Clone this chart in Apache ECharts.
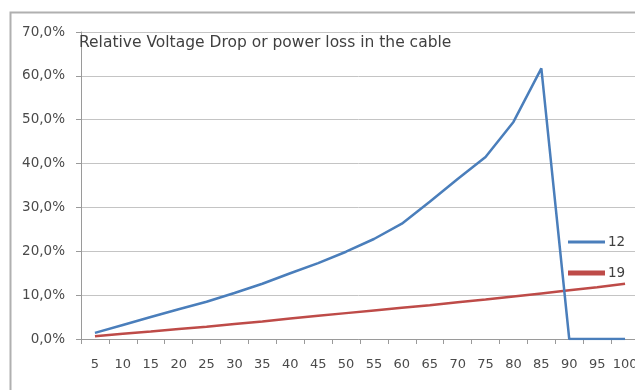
<!DOCTYPE html>
<html>
<head>
<meta charset="utf-8">
<script src="https://cdn.jsdelivr.net/npm/echarts@6/dist/echarts.min.js"></script>
<style>
html,body{margin:0;padding:0;background:#fff;}
#c{width:635px;height:390px;}
</style>
</head>
<body>
<div id="c"></div>
<script>
var categories = ['5','10','15','20','25','30','35','40','45','50','55','60','65','70','75','80','85','90','95','100'];
var series12 = [1.4, 3.2, 5.0, 6.8, 8.5, 10.5, 12.6, 15.0, 17.3, 19.9, 22.8, 26.3, 31.3, 36.5, 41.5, 49.5, 61.7, 0, 0, 0];
var series19 = [0.6, 1.2, 1.7, 2.3, 2.8, 3.4, 4.0, 4.7, 5.3, 5.9, 6.5, 7.1, 7.7, 8.4, 9.0, 9.7, 10.4, 11.1, 11.8, 12.6];
var yTicks = {min: 0, max: 70, interval: 10};
var titleText = 'Relative Voltage Drop or power loss in the cable';

var FONT = 'DejaVu Sans';
var chart = echarts.init(document.getElementById('c'), null, {renderer: 'canvas'});
chart.setOption({
  animation: false,
  backgroundColor: '#fff',
  graphic: [{
    type: 'rect',
    shape: {x: 10.5, y: 12.5, width: 700, height: 500},
    style: {fill: 'none', stroke: '#b0b0b0', lineWidth: 2},
    z: -1
  }],
  title: {
    text: titleText,
    left: 79, top: 35,
    padding: 0,
    textStyle: {fontFamily: FONT, fontSize: 15.5, fontWeight: 'normal', color: '#404040'}
  },
  legend: [{
    data: ['12'],
    left: 568, top: 235,
    padding: 0,
    icon: 'rect',
    itemWidth: 37, itemHeight: 3,
    itemGap: 0,
    textStyle: {fontFamily: FONT, fontSize: 13.5, color: '#404040', padding: [0,0,0,-2]}
  }, {
    data: ['19'],
    left: 568, top: 266,
    padding: 0,
    icon: 'rect',
    itemWidth: 37, itemHeight: 5,
    itemGap: 0,
    textStyle: {fontFamily: FONT, fontSize: 13.5, color: '#404040', padding: [0,0,0,-2]}
  }],
  grid: {left: 81, top: 32, width: 558, bottom: 51, containLabel: false, outerBoundsMode: 'none'},
  xAxis: {
    type: 'category',
    data: categories,
    boundaryGap: true,
    axisLine: {lineStyle: {color: '#9a9a9a', width: 1}},
    axisTick: {show: true, alignWithLabel: false, interval: 0, length: 5, lineStyle: {color: '#9a9a9a'}},
    axisLabel: {interval: 0, margin: 19, fontFamily: FONT, fontSize: 13, color: '#4a4a4a'},
    splitLine: {show: false}
  },
  yAxis: {
    type: 'value',
    min: yTicks.min, max: yTicks.max, interval: yTicks.interval,
    axisLine: {show: true, lineStyle: {color: '#9a9a9a', width: 1}},
    axisTick: {show: true, length: 5, lineStyle: {color: '#9a9a9a'}},
    axisLabel: {
      margin: 16, fontFamily: FONT, fontSize: 13.5, color: '#4a4a4a',
      formatter: function (v) { return v.toFixed(1).replace('.', ',') + '%'; }
    },
    splitLine: {show: true, lineStyle: {color: '#c4c4c4', width: 1}}
  },
  series: [{
    name: '12', type: 'line', data: series12,
    showSymbol: false, symbol: 'none',
    lineStyle: {color: '#4a7ebb', width: 2.5},
    itemStyle: {color: '#4a7ebb'},
    z: 3
  }, {
    name: '19', type: 'line', data: series19,
    showSymbol: false, symbol: 'none',
    lineStyle: {color: '#be4b48', width: 2.5},
    itemStyle: {color: '#be4b48'},
    z: 2
  }]
});
</script>
</body>
</html>
